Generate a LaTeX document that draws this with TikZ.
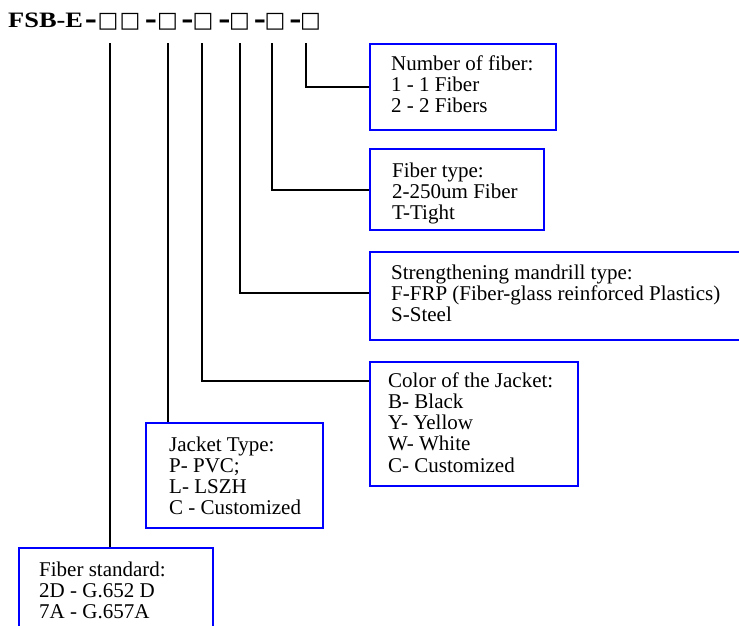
\documentclass[tikz,border=0pt]{standalone}
\usepackage{fontspec}
\setmainfont{Liberation Serif}
\newfontfamily\ttlfont[FakeStretch=1.2]{Liberation Serif}
\newfontfamily\sqfont{DejaVu Sans}
\newfontfamily\dshfont[FakeStretch=1.45]{DejaVu Sans}
\newcommand\tsq{\makebox[0pt][c]{\sqfont\fontsize{22}{24}\selectfont □}}
\newcommand\tdsh{\makebox[0pt][c]{\dshfont\fontsize{21}{24}\selectfont\bfseries -}}
\begin{document}
\begin{tikzpicture}[x=1pt,y=-1pt,
  box/.style={draw=blue, line width=2pt, anchor=north west, inner sep=0pt, rectangle},
  txt/.style={anchor=base west, inner sep=0pt, font=\fontsize{21}{21.3}\selectfont},
  conn/.style={draw=black, line width=2pt},
  ttl/.style={anchor=base west, inner sep=0pt, font=\fontsize{22}{24}\selectfont\bfseries}]
\useasboundingbox (0,0) rectangle (739,625);
\clip (0,0) rectangle (739,625);
\node[ttl] (title) at (8,27) {{\ttlfont FSB-E}\kern8pt\tdsh\kern17pt\tsq\kern22pt\tsq\kern21pt\tdsh\kern16.5pt\tsq\kern20pt\tdsh\kern15.5pt\tsq\kern21.5pt\tdsh\kern15pt\tsq\kern20.5pt\tdsh\kern15pt\tsq\kern20.5pt\tdsh\kern15pt\tsq\kern7pt};
\coordinate (c1) at (110,43);
\coordinate (c2) at (168,43);
\coordinate (c3) at (202,43);
\coordinate (c4) at (240,43);
\coordinate (c5) at (272,43);
\coordinate (c6) at (306,43);
\node[box, minimum width=186pt, minimum height=86pt] (b1) at (369,43) {};
\node[box, minimum width=174pt, minimum height=81pt] (b2) at (369,148) {};
\node[box, minimum width=400pt, minimum height=88pt] (b3) at (369,251) {};
\node[box, minimum width=208pt, minimum height=124pt] (b4) at (369,361) {};
\node[box, minimum width=177pt, minimum height=105pt] (b5) at (145,422) {};
\node[box, minimum width=194pt, minimum height=100pt] (b6) at (18,547) {};
\node[txt] (t1) at ([xshift=22pt,yshift=-27pt]b1.north west) {\begin{tabular}[t]{@{}l@{}}Number of fiber:\\1 - 1 Fiber\\2 - 2 Fibers\end{tabular}};
\node[txt] (t2) at ([xshift=23pt,yshift=-29pt]b2.north west) {\begin{tabular}[t]{@{}l@{}}Fiber type:\\2-250um Fiber\\T-Tight\end{tabular}};
\node[txt] (t3) at ([xshift=22pt,yshift=-28pt]b3.north west) {\begin{tabular}[t]{@{}l@{}}Strengthening mandrill type:\\F-FRP (Fiber-glass reinforced Plastics)\\S-Steel\end{tabular}};
\node[txt] (t4) at ([xshift=19pt,yshift=-26pt]b4.north west) {\begin{tabular}[t]{@{}l@{}}Color of the Jacket:\\B- Black\\Y- Yellow\\W- White\\C- Customized\end{tabular}};
\node[txt] (t5) at ([xshift=24pt,yshift=-29pt]b5.north west) {\begin{tabular}[t]{@{}l@{}}Jacket Type:\\P- PVC;\\L- LSZH\\C - Customized\end{tabular}};
\node[txt] (t6) at ([xshift=21pt,yshift=-29pt]b6.north west) {\begin{tabular}[t]{@{}l@{}}Fiber standard:\\2D - G.652 D\\7A - G.657A\end{tabular}};
\draw[conn] (c6) |- (b1.west);
\draw[conn] (c5) |- (b2.west);
\draw[conn] (c4) |- ([yshift=3pt]b3.west);
\draw[conn] (c3) |- ([yshift=-20pt]b4.north west);
\draw[conn] (c2) -- (c2 |- b5.north);
\draw[conn] (c1) -- (c1 |- b6.north);
\end{tikzpicture}
\end{document}
